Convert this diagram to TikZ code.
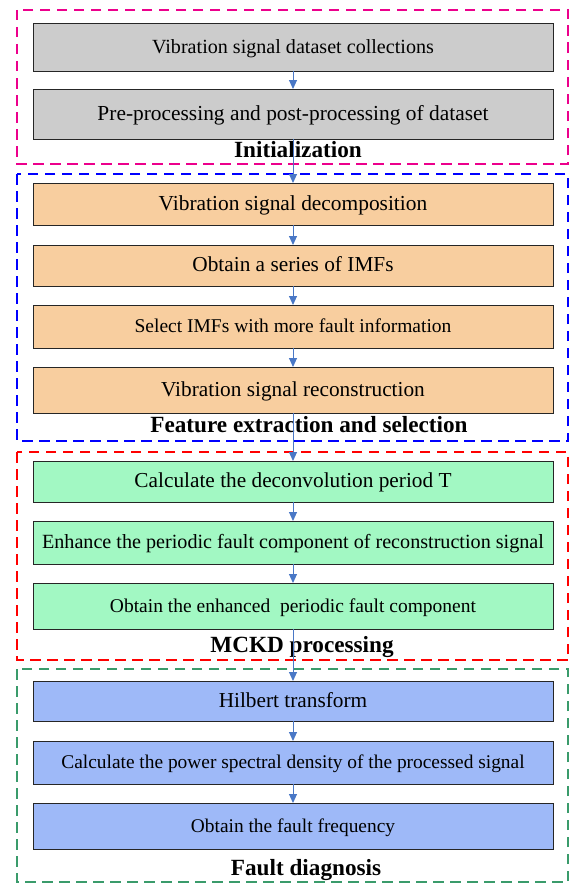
\documentclass[tikz,border=0pt]{standalone}
\usepackage{fontspec}
\setmainfont{Liberation Serif}
\usetikzlibrary{arrows.meta,shadows}
\definecolor{boxgray}{HTML}{CCCCCC}
\definecolor{boxorange}{HTML}{F8CE9F}
\definecolor{boxgreen}{HTML}{A2F8C3}
\definecolor{boxblue}{HTML}{9EB9F8}
\definecolor{arrowblue}{HTML}{4A78C6}
\definecolor{framegreen}{HTML}{3A9B6B}
\tikzset{
  x=1pt, y=-1pt,
  stage/.style={draw=black!85, line width=0.9pt, minimum width=520pt, anchor=north west,
    inner sep=0pt, outer sep=0pt, align=center, text height=15pt, text depth=3pt,
    drop shadow={shadow xshift=0.6pt, shadow yshift=-1.2pt, fill=black!45, opacity=1}},
  grayst/.style={stage, fill=boxgray},
  orangest/.style={stage, fill=boxorange},
  greenst/.style={stage, fill=boxgreen},
  bluest/.style={stage, fill=boxblue},
  frame/.style={line width=1.8pt, dash pattern=on 10.5pt off 6.5pt},
  grouptitle/.style={font=\fontsize{23.2}{26}\selectfont\bfseries, inner sep=0pt, anchor=base},
  flow/.style={arrowblue, line width=1pt, -{Triangle[width=8pt,length=9pt]}}
}
\begin{document}
\begin{tikzpicture}
\useasboundingbox (0,0) rectangle (572,883);

% dashed group frames
\draw[frame, magenta] (17,10) rectangle (568,164);
\draw[frame, blue] (17,174) rectangle (568,441);
\draw[frame, red] (17,452) rectangle (568,660);
\draw[frame, framegreen] (17,669) rectangle (568,882);

% Initialization
\node[grayst, minimum height=48pt, font=\fontsize{20.1}{23}\selectfont] (b1) at (33,23) {Vibration signal dataset collections};
\node[grayst, minimum height=50pt, font=\fontsize{21.4}{24}\selectfont] (b2) at (33,89) {Pre-processing and post-processing of dataset};
\node[grouptitle] (t1) at (298,157) {Initialization};

% Feature extraction and selection
\node[orangest, minimum height=42pt, font=\fontsize{21.4}{24}\selectfont] (b3) at (33,183) {Vibration signal decomposition};
\node[orangest, minimum height=41pt, font=\fontsize{21.3}{24}\selectfont] (b4) at (33,245) {Obtain a series of IMFs};
\node[orangest, minimum height=43pt, font=\fontsize{19.5}{22}\selectfont] (b5) at (33,305) {Select IMFs with more fault information};
\node[orangest, minimum height=46pt, font=\fontsize{21.3}{24}\selectfont] (b6) at (33,367) {Vibration signal reconstruction};
\node[grouptitle] (t2) at (309,432) {Feature extraction and selection};

% MCKD processing
\node[greenst, minimum height=41pt, font=\fontsize{21.3}{24}\selectfont] (b7) at (33,461) {Calculate the deconvolution period T};
\node[greenst, minimum height=43pt, font=\fontsize{20.15}{23}\selectfont] (b8) at (33,521) {Enhance the periodic fault component of reconstruction signal};
\node[greenst, minimum height=46pt, font=\fontsize{19.5}{22}\selectfont] (b9) at (33,583) {Obtain the enhanced\ \ periodic fault component};
\node[grouptitle] (t3) at (302,652) {MCKD processing};

% Fault diagnosis
\node[bluest, minimum height=40pt, font=\fontsize{21.3}{24}\selectfont] (b10) at (33,681) {Hilbert transform};
\node[bluest, minimum height=43pt, font=\fontsize{19.4}{22}\selectfont] (b11) at (33,741) {Calculate the power spectral density of the processed signal};
\node[bluest, minimum height=46pt, font=\fontsize{19.4}{22}\selectfont] (b12) at (33,803) {Obtain the fault frequency};
\node[grouptitle] (t4) at (306,875) {Fault diagnosis};

% flow arrows
\foreach \a/\b in {b1/b2, b2/b3, b3/b4, b4/b5, b5/b6, b6/b7, b7/b8, b8/b9, b9/b10, b10/b11, b11/b12}
  \draw[flow] (\a.south) -- (\b.north);
\end{tikzpicture}
\end{document}
